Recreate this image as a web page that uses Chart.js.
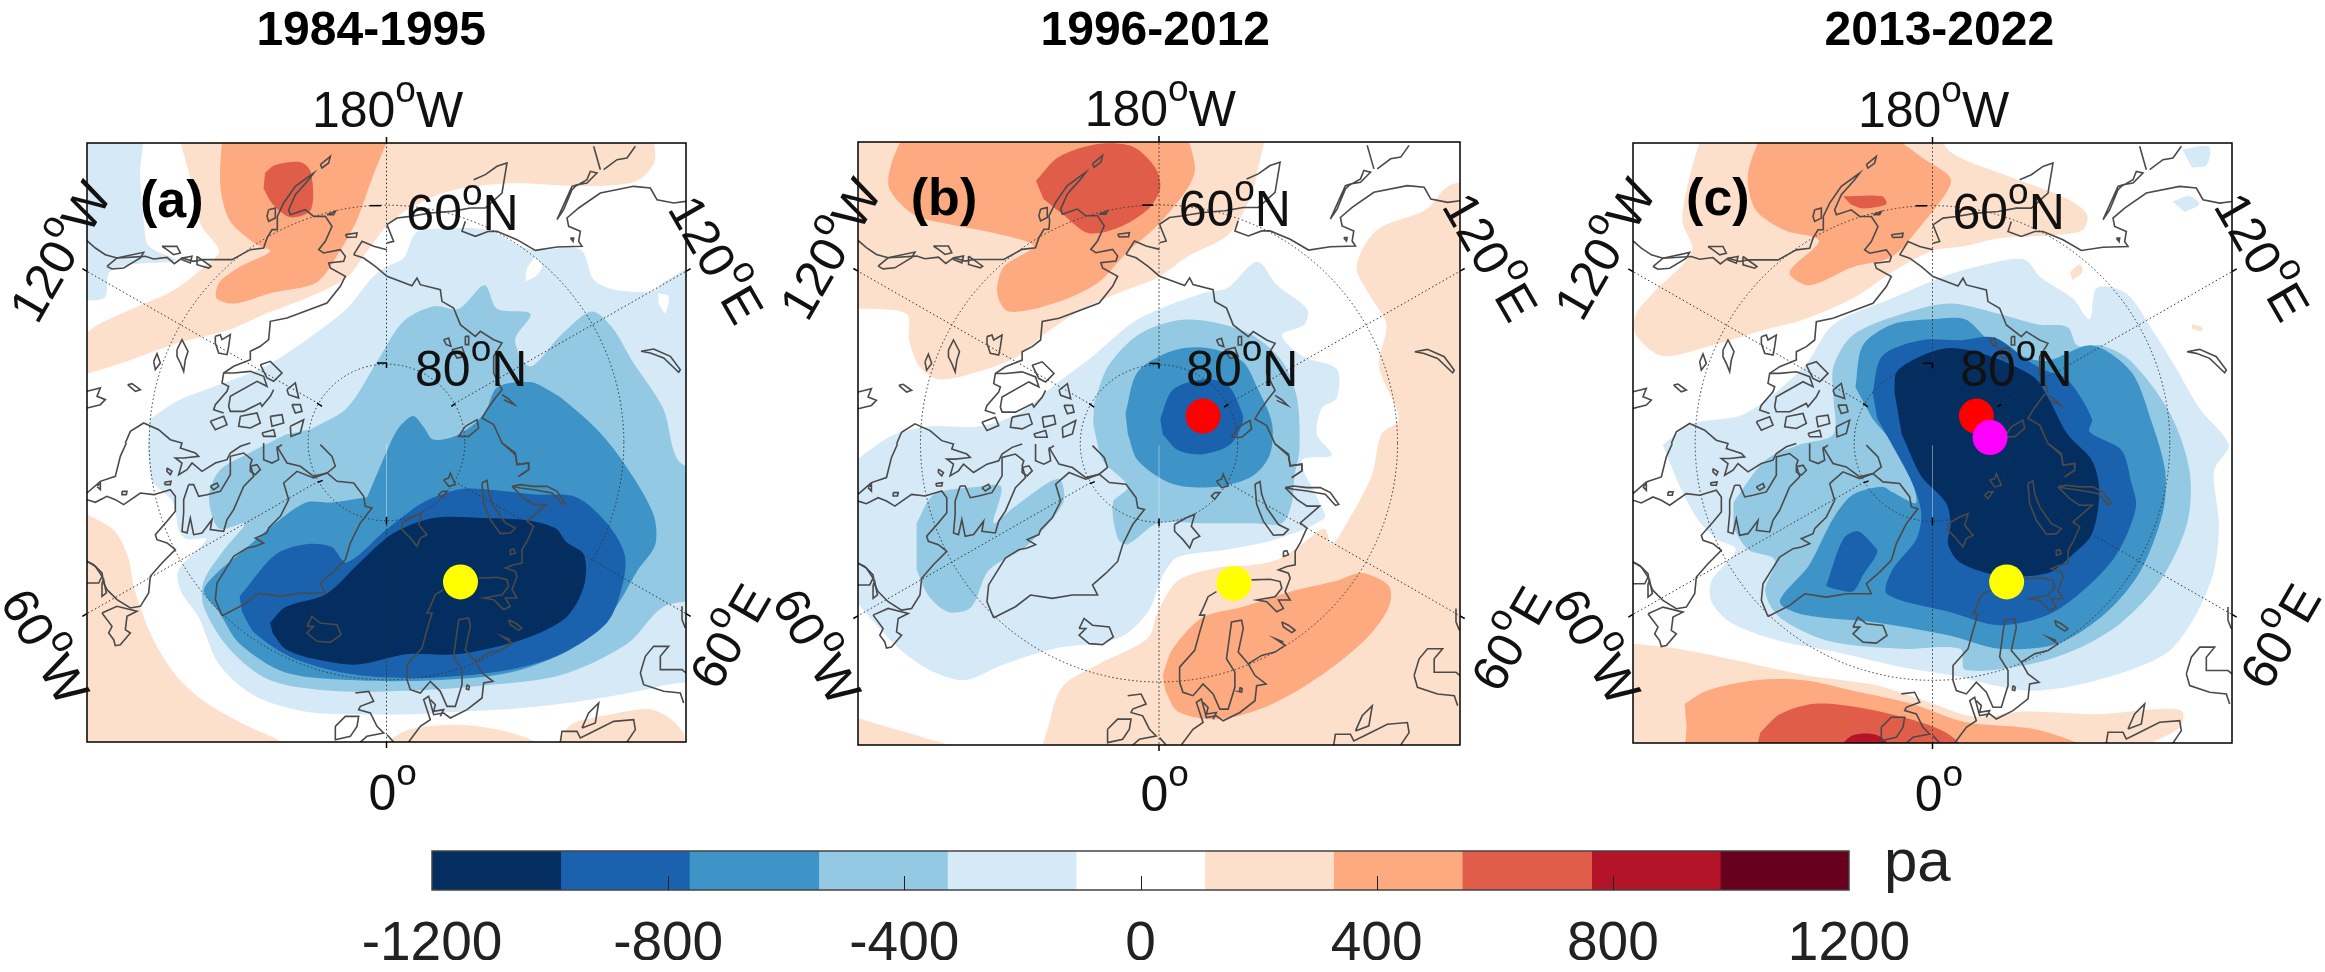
<!DOCTYPE html>
<html>
<head>
<meta charset="utf-8">
<title>Pressure anomaly maps</title>
<script src="https://cdn.jsdelivr.net/npm/chart.js@4"></script>
<style>
  html, body { margin: 0; background: #fff; }
  #page { position: relative; width: 2325px; height: 972px; overflow: hidden; }
  canvas { position: absolute; left: 0; top: 0; }
</style>
</head>
<body>
<div id="page">
  <canvas id="panelA" width="2325" height="972"></canvas>
  <canvas id="panelB" width="2325" height="972"></canvas>
  <canvas id="panelC" width="2325" height="972"></canvas>
  <canvas id="colorbar" width="2325" height="972"></canvas>
</div>
<script>
// colour levels, pa
const levelEdges = [-1200, -982, -764, -545, -327, -109, 109, 327, 545, 764, 982, 1200];
const levelColors = ['#042e60', '#1a62ae', '#3f94c7', '#93c9e3', '#d5e9f7', '#ffffff', '#fde0cb', '#fdaa81', '#e05e49', '#b31428', '#67001f'];
const colorbarTicks = [-1200, -800, -400, 0, 400, 800, 1200];
const panelTitles = ['1984-1995', '1996-2012', '2013-2022'];
const panelTags = ['(a)', '(b)', '(c)'];

// panel a contours
const a_m200_topleft = [[120,220],[272,220],[275,340],[282,420],[292,470],[345,497],[260,505],[215,520],[204,570],[120,570]];
const a_p200_top = [[120,680],[185,625],[260,590],[340,555],[400,510],[430,480],[395,430],[375,350],[365,220],[1250,220],[1285,300],[1250,345],[1150,355],[1000,350],[880,365],[800,400],[760,430],[720,480],[680,530],[600,570],[520,600],[450,630],[350,655],[250,690],[120,730]];
const a_p400_top = [[440,220],[432,350],[450,420],[500,465],[530,480],[470,510],[430,540],[425,570],[460,580],[530,560],[620,540],[660,490],[700,420],[730,340],[780,220]];
const a_p600_top = [[520,330],[540,315],[590,310],[610,330],[610,400],[570,415],[535,390],[517,360]];
const a_p200_botleft = [[120,960],[220,1010],[250,1060],[265,1130],[300,1220],[345,1290],[400,1340],[480,1385],[560,1425],[560,1470],[120,1470]];
const a_p200_bot = [[740,1430],[800,1395],[900,1385],[1000,1400],[1065,1430],[1000,1470],[800,1470]];
const a_p200_botright = [[1090,1430],[1120,1385],[1200,1365],[1270,1355],[1310,1370],[1340,1400],[1345,1425],[1400,1470],[1100,1470]];
const a_m200 = [[295,800],[350,765],[430,735],[520,700],[600,650],[680,590],[730,530],[759,509],[792,493],[815,445],[857,437],[955,439],[1007,464],[1046,477],[1138,477],[1164,534],[1203,553],[1281,556],[1304,537],[1400,500],[1400,1280],[1300,1310],[1200,1330],[1100,1345],[1000,1355],[900,1360],[800,1365],[700,1365],[600,1360],[500,1330],[430,1270],[390,1180],[355,1130],[350,1090],[405,1030],[365,1030],[350,1010],[340,960],[300,920],[290,860]];
const a_white_notch1 = [[1033,512],[1050,493],[1063,509],[1050,528],[1030,537]];
const a_white_notch2 = [[1291,560],[1311,566],[1304,598],[1291,579]];
const a_m400 = [[610,820],[680,780],[740,690],[790,615],[850,585],[900,590],[950,545],[975,590],[1040,600],[1010,650],[1040,700],[1100,640],[1160,595],[1200,625],[1240,690],[1300,780],[1330,880],[1400,920],[1400,1130],[1300,1160],[1230,1230],[1100,1290],[950,1310],[800,1320],[650,1320],[530,1300],[450,1240],[400,1160],[400,1110],[440,1050],[480,1000],[430,1010],[410,950],[430,900],[480,870],[560,830]];
const a_m600 = [[755,870],[780,820],[810,795],[830,815],[850,840],[900,830],[950,790],[975,740],[1040,730],[1075,745],[1100,760],[1170,820],[1220,880],[1280,980],[1285,1040],[1250,1090],[1200,1170],[1120,1240],[1000,1285],[850,1300],[700,1300],[560,1285],[470,1230],[430,1170],[400,1130],[420,1100],[480,1050],[540,1000],[600,960],[650,960],[720,950]];
const a_m800 = [[470,1140],[540,1060],[600,1040],[650,1045],[680,1075],[760,1010],[830,960],[900,935],[950,935],[1050,945],[1130,950],[1190,1000],[1225,1060],[1220,1120],[1190,1190],[1100,1250],[1000,1280],[850,1295],[700,1290],[580,1260],[500,1210],[475,1170]];
const a_m1000 = [[530,1190],[560,1160],[640,1135],[700,1080],[770,1020],[850,990],[950,990],[1040,995],[1090,1010],[1110,1035],[1145,1060],[1145,1120],[1110,1180],[1030,1220],[900,1250],[800,1250],[700,1270],[620,1260],[560,1240],[535,1210]];
const a_yellow = [[903,1112]];

// panel b contours
const b_p200_top = [[100,220],[965,220],[960,330],[940,390],[900,450],[820,490],[760,530],[680,560],[610,590],[530,640],[480,680],[400,710],[320,725],[280,700],[260,650],[255,600],[170,590],[100,590]];
const b_p200_right = [[1420,340],[1345,355],[1300,400],[1200,440],[1160,510],[1190,570],[1220,620],[1205,700],[1245,800],[1210,830],[1190,910],[1140,1000],[1110,1040],[1095,1010],[1050,1040],[1000,1070],[950,1080],[880,1085],[800,1110],[760,1170],[740,1220],[640,1270],[570,1310],[545,1370],[535,1480],[1420,1480]];
const b_p200_corner = [[100,1355],[200,1385],[290,1410],[360,1435],[100,1480]];
const b_p400_top = [[262,230],[225,310],[220,360],[270,410],[350,430],[430,445],[510,470],[450,510],[437,560],[460,595],[550,580],[640,540],[700,480],[760,430],[820,360],[835,320],[810,230]];
const b_p600_top = [[515,345],[560,300],[640,275],[710,280],[755,320],[765,360],[740,400],[680,435],[620,445],[570,410],[530,380]];
const b_p400_bot = [[770,1290],[790,1240],[850,1180],[930,1160],[1030,1130],[1120,1110],[1170,1095],[1225,1120],[1225,1160],[1180,1220],[1090,1290],[980,1350],[880,1375],[800,1360],[775,1320]];
const b_m200 = [[100,920],[220,835],[300,815],[400,815],[480,790],[560,730],[630,680],[720,610],[850,560],[900,550],[960,500],[1000,545],[1060,590],[1055,620],[1010,640],[1050,680],[1120,705],[1120,760],[1090,780],[1080,830],[1110,870],[1050,880],[1085,960],[1095,990],[1000,1030],[900,1050],[800,1065],[770,1100],[740,1170],[680,1220],[550,1240],[450,1270],[370,1300],[300,1280],[240,1240],[190,1190],[100,1090]];
const b_m400_centre = [[632,770],[660,700],[720,640],[800,612],[870,615],[950,640],[1010,690],[1040,760],[1045,860],[1035,910],[1030,960],[1010,1000],[950,1000],[850,1000],[760,1000],[700,1040],[680,1030],[670,960],[700,930],[650,880],[630,810]];
const b_m400_left = [[275,1000],[310,945],[400,930],[445,930],[430,1000],[470,970],[560,915],[570,960],[500,1040],[420,1090],[385,1160],[340,1170],[300,1140],[275,1090]];
const b_m600 = [[695,790],[720,710],[790,670],[860,665],[930,690],[960,740],[990,810],[985,870],[950,910],[880,930],[790,925],[720,880],[700,830]];
const b_m800 = [[765,800],[790,745],[850,725],[900,735],[930,790],[930,810],[905,850],[850,868],[800,860],[770,830]];
const b_red = [[851,795]];
const b_yellow = [[913,1115]];

// panel c contours
const c_p200_top = [[300,230],[270,320],[250,420],[270,480],[190,560],[155,600],[155,640],[210,680],[310,660],[420,630],[500,610],[600,570],[680,520],[760,480],[830,470],[900,455],[1000,450],[1070,440],[1080,410],[1040,380],[900,330],[800,290],[760,230]];
const c_p400_top = [[425,230],[385,330],[400,400],[460,440],[530,460],[470,520],[510,545],[600,510],[680,490],[740,430],[790,370],[800,340],[740,300],[640,230]];
const c_p600_top = [[580,375],[660,375],[668,390],[620,398],[595,390]];
const c_p200_bot = [[100,1225],[240,1240],[350,1260],[500,1290],[650,1310],[750,1340],[850,1370],[950,1360],[1100,1365],[1230,1355],[1275,1360],[1270,1390],[1190,1430],[1100,1480],[100,1480]];
const c_p400_bot = [[255,1345],[300,1320],[400,1300],[500,1300],[600,1320],[720,1345],[830,1380],[980,1395],[1080,1435],[900,1480],[270,1480],[258,1380]];
const c_p600_bot = [[410,1400],[450,1365],[520,1345],[600,1350],[700,1370],[790,1400],[825,1435],[600,1480],[400,1440]];
const c_p800_bot = [[570,1430],[600,1405],[650,1405],[675,1430],[620,1450]];
const c_m200_patch1 = [[1275,285],[1330,280],[1325,315],[1295,320]];
const c_m200_patch2 = [[1255,385],[1290,375],[1310,390],[1280,405]];
const c_p200_patch1 = [[1295,620],[1315,625],[1315,633],[1295,628]];
const c_p200_patch2 = [[1045,520],[1065,505],[1070,520],[1050,535]];
const c_m200 = [[210,850],[270,810],[380,790],[500,700],[560,620],[680,570],[780,530],[850,510],[950,495],[985,530],[1050,570],[1085,610],[1100,550],[1160,560],[1220,640],[1260,700],[1310,780],[1370,850],[1340,900],[1350,1000],[1340,1090],[1300,1180],[1240,1250],[1100,1300],[960,1320],[800,1290],[700,1275],[560,1245],[450,1225],[350,1190],[310,1150],[310,1110],[360,1050],[320,1030],[280,990],[240,920]];
const c_m400 = [[355,960],[420,880],[490,850],[560,830],[560,760],[560,700],[600,640],[700,600],[800,580],[900,600],[980,620],[1040,625],[1060,660],[1110,660],[1170,690],[1250,790],[1290,900],[1285,1000],[1230,1110],[1150,1190],[1060,1240],[960,1270],[830,1280],[820,1240],[700,1240],[550,1225],[450,1180],[420,1130],[440,1070],[385,1050],[355,1010]];
const c_m600 = [[605,740],[620,660],[680,620],[760,610],[830,610],[880,650],[990,690],[1090,660],[1170,710],[1210,800],[1240,900],[1235,980],[1190,1090],[1120,1170],[1020,1230],[900,1240],[800,1215],[650,1190],[500,1175],[450,1150],[510,1080],[560,990],[600,945],[660,930],[680,940],[730,960],[700,870],[640,800]];
const c_m800 = [[640,750],[660,680],[740,650],[820,650],[890,645],[960,690],[1000,710],[1040,725],[1090,800],[1085,825],[1150,860],[1170,920],[1180,970],[1140,1060],[1070,1130],[1000,1175],[900,1195],[800,1170],[670,1135],[680,1090],[730,1030],[740,980],[720,920],[680,850],[650,800]];
const c_m800_small = [[545,1120],[580,1030],[610,1015],[640,1040],[650,1055],[620,1100],[600,1130],[560,1125]];
const c_m1000 = [[685,750],[690,710],[740,680],[800,665],[880,680],[970,720],[1000,760],[1040,830],[1090,880],[1105,940],[1090,1020],[1050,1060],[1000,1095],[900,1100],[820,1075],[795,1040],[800,1000],[790,960],[740,910],[700,830]];
const c_red = [[853,795]];
const c_magenta = [[881,836]];
const c_yellow = [[915,1112]];

// coastlines on the shared map grid (0..1797 across the box), same in all panels
const coastlines = [
  [[0,293],[25,315],[55,335],[90,345],[175,340],[200,348],[240,343],[262,362],[285,345],[320,355],[345,350],[435,350],[490,320],[530,315],[540,285],[555,260],[570,260],[572,235],[570,220],[590,180],[625,130],[680,90],[665,110],[625,155],[605,200],[610,215],[655,200],[680,220],[715,220],[735,250],[715,295],[695,320],[710,330],[760,320],[775,340],[770,355],[725,360],[730,375],[775,400],[760,430],[720,480],[640,510],[600,525],[550,535],[545,590],[520,610],[490,625],[490,650],[440,670],[410,690],[405,720],[425,730],[420,745],[385,785],[380,800],[410,810]],
  [[60,370],[90,345],[170,328],[160,345],[110,375],[75,378],[60,370]],
  [[545,200],[565,195],[565,225],[545,235],[540,220],[545,200]],
  [[700,65],[730,40],[725,60],[705,75],[700,65]],
  [[720,215],[745,205],[740,215],[725,215],[720,215]],
  [[775,275],[810,270],[808,282],[780,283],[775,275]],
  [[225,310],[270,310],[280,330],[260,335],[240,320],[225,310]],
  [[285,345],[315,340],[310,360],[285,350],[285,345]],
  [[330,340],[372,370],[365,375],[330,365],[330,340]],
  [[385,580],[400,575],[405,590],[430,575],[425,610],[420,635],[395,630],[385,600],[385,580]],
  [[270,620],[285,590],[303,625],[295,650],[290,685],[280,660],[270,640],[270,620]],
  [[200,655],[210,632],[220,660],[205,680],[200,655]],
  [[122,725],[135,722],[160,740],[145,745],[122,725]],
  [[0,745],[40,735],[30,760],[55,770],[40,785],[0,795]],
  [[800,335],[825,295],[860,310],[900,320]],
  [[800,335],[830,345],[865,370],[900,400],[975,428],[990,405],[1000,425],[1060,440],[1065,475],[1100,495],[1120,545],[1165,580],[1180,565],[1220,590],[1245,600],[1220,640],[1220,690],[1245,740],[1225,765],[1200,800],[1185,825],[1220,845],[1245,900],[1285,930],[1290,965],[1325,960],[1325,980],[1295,1000]],
  [[900,245],[930,225],[970,220],[1030,210],[1095,205],[1150,195],[1195,195],[1245,150],[1260,60],[1230,70],[1195,95],[1160,110]],
  [[900,245],[920,295],[900,300]],
  [[1135,235],[1125,265],[1165,280],[1205,265],[1230,265],[1290,290],[1345,322],[1410,312],[1485,310],[1475,295],[1480,265],[1445,250],[1440,225],[1475,195],[1540,150],[1640,130],[1690,135],[1710,170],[1760,180],[1797,175]],
  [[1410,230],[1455,130],[1470,125],[1500,120],[1530,90],[1510,85],[1500,110],[1465,130],[1455,140],[1430,200],[1410,230]],
  [[1540,80],[1520,10]],
  [[1550,80],[1590,50],[1620,45],[1645,10]],
  [[1070,590],[1085,585],[1092,610],[1078,605],[1070,590]],
  [[1135,580],[1145,580],[1145,605],[1135,605],[1135,580]],
  [[1095,620],[1125,612],[1135,640],[1110,645],[1095,620]],
  [[1245,755],[1265,768],[1282,785],[1250,770]],
  [[1135,850],[1170,830],[1175,855],[1145,880],[1115,880],[1135,850]],
  [[1662,625],[1700,618],[1750,640],[1780,680],[1775,688],[1730,645],[1690,630],[1662,625]],
  [[1450,285],[1460,285],[1458,295],[1450,285]],
  [[520,665],[550,655],[585,690],[560,715],[540,705],[520,665]],
  [[410,690],[440,690],[490,685],[530,700],[540,730],[510,715],[430,760],[425,790],[430,805],[470,805],[520,780],[525,790],[550,760],[560,740]],
  [[460,820],[510,810],[520,840],[490,855],[455,850],[460,820]],
  [[370,835],[410,820],[420,845],[385,860],[370,835]],
  [[550,820],[585,815],[590,840],[555,850],[550,820]],
  [[525,870],[560,860],[565,880],[530,880],[525,870]],
  [[600,740],[625,720],[635,765],[605,755],[600,740]],
  [[615,785],[640,785],[645,805],[625,810],[615,785]],
  [[610,850],[650,830],[640,870],[612,880],[610,850]],
  [[115,900],[130,865],[170,840],[215,860],[250,890],[285,900],[280,915],[325,930],[335,940],[290,945],[265,945],[285,960],[275,995],[300,980],[315,960],[345,985],[385,960],[420,950],[430,930],[460,910],[490,900]],
  [[118,900],[100,940],[85,1000],[40,1015],[0,1050]],
  [[0,1070],[25,1078],[60,1060],[85,1070],[110,1085],[160,1050],[200,1055],[250,1040],[265,1060],[265,1105],[240,1135],[205,1175],[210,1190],[240,1200],[265,1220],[225,1260],[190,1300],[185,1350],[160,1390],[130,1395],[90,1370],[60,1340],[50,1320],[45,1290],[20,1265],[0,1255]],
  [[0,1255],[25,1270],[45,1300],[35,1320],[0,1320]],
  [[45,1320],[50,1310],[58,1350],[45,1360],[45,1320]],
  [[45,1410],[90,1390],[150,1405],[120,1420],[115,1460],[130,1470],[100,1505],[85,1508],[80,1490],[65,1470],[75,1450],[45,1410]],
  [[30,1030],[40,1020],[40,1040],[30,1030]],
  [[105,1045],[120,1045],[118,1055],[105,1055],[105,1045]],
  [[240,975],[255,985],[250,995],[240,985],[240,975]],
  [[232,1018],[252,1015],[250,1025],[235,1025],[232,1018]],
  [[305,1025],[290,1070],[290,1110],[285,1165],[300,1170],[310,1125],[320,1175],[345,1170],[375,1130],[370,1160],[410,1165],[420,1130],[440,1100],[470,1030],[500,1000],[490,965],[495,950],[470,930],[430,940],[430,995],[400,1045],[360,1055],[335,1060],[320,1025],[305,1025]],
  [[370,1030],[390,1020],[395,1030],[380,1040],[370,1030]],
  [[490,970],[510,965],[520,980],[505,995],[490,985],[490,970]],
  [[530,900],[530,950],[555,960],[575,950],[570,915],[585,905]],
  [[570,910],[600,960],[640,970],[680,1000],[720,990],[745,970],[735,940],[700,905]],
  [[405,1418],[385,1370],[390,1320],[440,1240],[480,1215],[505,1210],[530,1200],[505,1185],[540,1170],[545,1155],[580,1120],[605,1070],[590,1020],[630,985],[680,1005],[720,990],[750,1015],[800,1020],[830,1060],[835,1090],[855,1095],[820,1140],[790,1200],[775,1250],[740,1285],[700,1320],[715,1350],[640,1350],[580,1360],[515,1350],[470,1385],[405,1418]],
  [[660,1450],[675,1420],[700,1440],[750,1445],[762,1475],[730,1498],[690,1495],[660,1470],[680,1450],[660,1450]],
  [[745,1750],[775,1720],[815,1720],[810,1750],[790,1780],[745,1790],[745,1750]],
  [[805,1650],[845,1645],[860,1675],[820,1690],[815,1700],[850,1710],[870,1750],[890,1770],[840,1780],[820,1797]],
  [[1245,900],[1285,935],[1290,965],[1325,960],[1325,980],[1295,1000]],
  [[1275,1030],[1300,1025],[1340,1030],[1380,1030],[1410,1045],[1435,1080],[1425,1083],[1395,1050],[1340,1040],[1300,1035],[1275,1030]],
  [[1275,1030],[1310,1065],[1340,1085],[1378,1085],[1355,1105],[1320,1135],[1340,1150],[1320,1195],[1305,1220],[1305,1260],[1280,1265],[1255,1275],[1285,1285],[1290,1300],[1275,1340],[1290,1365],[1255,1365],[1270,1390],[1250,1400],[1220,1370],[1190,1365],[1245,1355],[1265,1330],[1260,1310],[1230,1303],[1175,1305]],
  [[1185,1020],[1200,1012],[1205,1050],[1220,1090],[1255,1140],[1285,1155],[1270,1170],[1240,1172],[1210,1130],[1190,1080],[1185,1020]],
  [[1270,1220],[1280,1218],[1285,1230],[1270,1235],[1270,1220]],
  [[1265,1430],[1285,1440],[1305,1455],[1295,1462],[1270,1445],[1265,1430]],
  [[1070,1340],[1045,1355],[1030,1390],[1020,1410],[1035,1410],[1020,1460],[1005,1515],[960,1565],[960,1610],[970,1640],[1000,1650],[1030,1615],[1060,1645],[1080,1690],[1105,1690],[1125,1625],[1125,1580],[1100,1540],[1115,1430],[1145,1425],[1150,1450],[1135,1520],[1165,1555],[1205,1530],[1245,1520],[1275,1500],[1245,1480],[1270,1490]],
  [[1165,1555],[1185,1590],[1218,1615],[1190,1620],[1185,1665],[1140,1700],[1090,1725],[1070,1710],[1040,1715],[1025,1660],[1010,1670],[1030,1730],[1000,1750],[965,1797]],
  [[1030,1670],[1045,1685],[1040,1705],[1070,1700],[1060,1720]],
  [[900,1775],[920,1797]],
  [[1140,1625],[1147,1630],[1145,1640],[1138,1638],[1140,1625]],
  [[1065,1045],[1080,1045],[1065,1065],[1055,1055],[1065,1045]],
  [[1070,1010],[1085,1005],[1090,990],[1105,1025],[1085,1030],[1070,1010]],
  [[945,1140],[980,1120],[1005,1110],[995,1145],[1020,1175],[1000,1185],[990,1210],[970,1185],[945,1160],[945,1140]],
  [[1660,1590],[1675,1540],[1700,1510],[1745,1510],[1720,1540],[1720,1580],[1785,1580],[1797,1590]],
  [[1660,1590],[1670,1625],[1730,1645],[1780,1650],[1790,1680]],
  [[1785,1390],[1785,1430],[1795,1455]],
  [[1420,1797],[1425,1765],[1470,1765],[1480,1785],[1510,1770],[1580,1735],[1640,1730],[1645,1760],[1620,1797]],
  [[1485,1755],[1505,1710],[1535,1680],[1525,1740],[1485,1755]]
];

// map graticule
const mapCentre = 898.5;
const latCircleRadii = [712, 235];
const meridianEnds = [[898.5,0],[898.5,1797],[0,385],[1797,385],[0,1412],[1797,1412]];
const mapSeam = [[898.5,905],[898.5,1120]];
const edgeTicks = [[[898.5,-18],[898.5,0]],[[898.5,1797],[898.5,1815]],[[-14,377],[0,385]],[[1797,385],[1811,377]],[[-14,1420],[0,1412]],[[1797,1412],[1811,1420]],[[848,188],[882,188]],[[870,660],[900,660]],[[898.5,660],[898.5,675]],[[898.5,1122],[898.5,1144]],[[690,780],[705,790]],[[1093,790],[1105,782]],[[692,1018],[707,1012]]];

const panels = [
  {
    canvas: 'panelA', box: [87, 143, 686, 742], gridX: [171, 1345], gridY: [273, 1418],
    contours: [[4,a_m200_topleft],[6,a_p200_top],[7,a_p400_top],[8,a_p600_top],[6,a_p200_botleft],[6,a_p200_bot],[6,a_p200_botright],[4,a_m200],[5,a_white_notch1],[5,a_white_notch2],[3,a_m400],[2,a_m600],[1,a_m800],[0,a_m1000]],
    markers: [['#ffff00',a_yellow]],
    texts: { north180: [760,243], lat60: [907,440], lat80: [924,738], zero: [770,1548], tag: [337,415], w120: [117,480], e120: [1405,495], w60: [90,1235], e60: [1430,1215], title: [728,75] }
  },
  {
    canvas: 'panelB', box: [858, 142, 1460, 745], gridX: [157, 1368], gridY: [271, 1424],
    contours: [[6,b_p200_top],[6,b_p200_right],[6,b_p200_corner],[7,b_p400_top],[8,b_p600_top],[7,b_p400_bot],[4,b_m200],[3,b_m400_centre],[3,b_m400_left],[2,b_m600],[1,b_m800]],
    markers: [['#ff0000',b_red],['#ffff00',b_yellow]],
    texts: { north180: [765,240], lat60: [915,432], lat80: [930,738], zero: [774,1550], tag: [330,410], w120: [100,475], e120: [1430,490], w60: [75,1235], e60: [1470,1220], title: [755,75] }
  },
  {
    canvas: 'panelC', box: [1633, 143, 2232, 743], gridX: [149, 1377], gridY: [273, 1420],
    contours: [[6,c_p200_top],[7,c_p400_top],[8,c_p600_top],[6,c_p200_bot],[7,c_p400_bot],[8,c_p600_bot],[9,c_p800_bot],[4,c_m200_patch1],[4,c_m200_patch2],[6,c_p200_patch1],[6,c_p200_patch2],[4,c_m200],[3,c_m400],[2,c_m600],[1,c_m800],[1,c_m800_small],[0,c_m1000]],
    markers: [['#ffff00',c_yellow],['#ff0000',c_red],['#ff00ff',c_magenta]],
    texts: { north180: [765,243], lat60: [919,437], lat80: [935,738], zero: [776,1550], tag: [323,410], w120: [90,475], e120: [1440,490], w60: [75,1235], e60: [1475,1215], title: [777,75] }
  }
];

const toPoints = pts => pts.map(p => ({ x: p[0], y: p[1] }));
const FONT = '"Liberation Sans", Arial, sans-serif';

// number + raised "o" + letter, the way the map toolbox labels degrees
function drawDegree(ctx, num, letter, size, cx, cy, angle, baseline) {
  ctx.save();
  ctx.translate(cx, cy);
  ctx.rotate(angle * Math.PI / 180);
  ctx.fillStyle = '#111';
  ctx.textAlign = 'left';
  ctx.textBaseline = 'alphabetic';
  const big = size + 'px ' + FONT, small = Math.round(size * 0.74) + 'px ' + FONT;
  ctx.font = big;
  const w1 = ctx.measureText(num).width, w3 = ctx.measureText(letter).width;
  ctx.font = small;
  const w2 = ctx.measureText('o').width;
  let x = -(w1 + w2 + w3) / 2;
  const y = baseline ? 0 : size * 0.36;
  ctx.font = big;
  ctx.fillText(num, x, y);
  x += w1;
  ctx.font = small;
  ctx.fillText('o', x, y - size * 0.5);
  x += w2;
  ctx.font = big;
  ctx.fillText(letter, x, y);
  ctx.restore();
}

const mapDecor = {
  id: 'mapDecor',
  beforeDatasetDraw(chart, args) {
    if (!chart.data.datasets[args.index].graticuleBelow) return;
    const sx = chart.scales.mapX, sy = chart.scales.mapY, ctx = chart.ctx, a = chart.chartArea;
    const cx = sx.getPixelForValue(mapCentre), cy = sy.getPixelForValue(mapCentre);
    const radius = r => Math.abs(sx.getPixelForValue(mapCentre + r) - cx);
    ctx.save();
    ctx.beginPath();
    ctx.rect(a.left, a.top, a.width, a.height);
    ctx.clip();
    // thin light seam the contour plot leaves along 0 degrees
    ctx.strokeStyle = 'rgba(255,255,255,0.4)';
    ctx.lineWidth = 1;
    ctx.beginPath();
    ctx.moveTo(sx.getPixelForValue(mapSeam[0][0]), sy.getPixelForValue(mapSeam[0][1]));
    ctx.lineTo(sx.getPixelForValue(mapSeam[1][0]), sy.getPixelForValue(mapSeam[1][1]));
    ctx.stroke();
    ctx.strokeStyle = '#333';
    ctx.setLineDash([1.5, 2.5]);
    latCircleRadii.forEach(r => {
      ctx.beginPath();
      ctx.arc(cx, cy, radius(r), 0, Math.PI * 2);
      ctx.stroke();
    });
    // meridians start at the 80N circle
    const inner = radius(latCircleRadii[1]);
    meridianEnds.forEach(p => {
      const ex = sx.getPixelForValue(p[0]), ey = sy.getPixelForValue(p[1]);
      const len = Math.hypot(ex - cx, ey - cy);
      ctx.beginPath();
      ctx.moveTo(cx + (ex - cx) / len * inner, cy + (ey - cy) / len * inner);
      ctx.lineTo(ex, ey);
      ctx.stroke();
    });
    ctx.restore();
  },
  afterDraw(chart, args, opts) {
    const ctx = chart.ctx, a = chart.chartArea, sx = chart.scales.mapX, sy = chart.scales.mapY;
    const px = chart.scales.x, py = chart.scales.y, t = opts.texts;
    ctx.save();
    ctx.strokeStyle = '#000';
    ctx.lineWidth = 1.5;
    ctx.strokeRect(a.left, a.top, a.width, a.height);
    edgeTicks.forEach(e => {
      ctx.beginPath();
      ctx.moveTo(sx.getPixelForValue(e[0][0]), sy.getPixelForValue(e[0][1]));
      ctx.lineTo(sx.getPixelForValue(e[1][0]), sy.getPixelForValue(e[1][1]));
      ctx.stroke();
    });
    ctx.fillStyle = '#000';
    ctx.textAlign = 'center';
    ctx.textBaseline = 'alphabetic';
    ctx.font = 'bold 48px ' + FONT;
    ctx.fillText(opts.title, px.getPixelForValue(t.title[0]), 45);
    ctx.font = 'bold 52px ' + FONT;
    ctx.fillText(opts.tag, px.getPixelForValue(t.tag[0]), py.getPixelForValue(t.tag[1]));
    ctx.restore();
    const place = (k, num, letter, angle, baseline) => {
      drawDegree(ctx, num, letter, 50, px.getPixelForValue(t[k][0]), py.getPixelForValue(t[k][1]), angle, baseline);
    };
    place('north180', '180', 'W', 0, true);
    place('lat60', '60', 'N', 0, true);
    place('lat80', '80', 'N', 0, true);
    place('zero', '0', '', 0, true);
    place('w120', '120', 'W', -60, false);
    place('e120', '120', 'E', 60, false);
    place('w60', '60', 'W', 60, false);
    place('e60', '60', 'E', -60, false);
  }
};

panels.forEach((p, i) => {
  // painted back to front, then reversed because Chart.js draws the last dataset first
  const painted = p.contours.map(c => ({
    data: toPoints(c[1]), showLine: true, fill: 'shape', tension: 0.3, borderWidth: 0,
    backgroundColor: levelColors[c[0]], pointRadius: 0
  }));
  coastlines.forEach((line, n) => {
    painted.push({
      data: toPoints(line), showLine: true, fill: false, tension: 0, borderWidth: 1.6,
      borderColor: '#4a4a4a', pointRadius: 0, xAxisID: 'mapX', yAxisID: 'mapY', graticuleBelow: n === 0
    });
  });
  p.markers.forEach(m => {
    painted.push({ data: toPoints(m[1]), showLine: false, pointRadius: 17.5, pointBackgroundColor: m[0], pointBorderWidth: 0 });
  });
  new Chart(document.getElementById(p.canvas), {
    type: 'scatter',
    data: { datasets: painted.reverse() },
    options: {
      responsive: false,
      animation: false,
      events: [],
      layout: { padding: { left: p.box[0], top: p.box[1], right: 2325 - p.box[2], bottom: 972 - p.box[3] } },
      scales: {
        x: { display: false, min: p.gridX[0], max: p.gridX[1] },
        y: { display: false, min: p.gridY[0], max: p.gridY[1], reverse: true },
        mapX: { display: false, axis: 'x', min: 0, max: 1797 },
        mapY: { display: false, axis: 'y', min: 0, max: 1797, reverse: true }
      },
      plugins: {
        legend: { display: false },
        tooltip: { enabled: false },
        mapDecor: { texts: p.texts, title: panelTitles[i], tag: panelTags[i] }
      }
    },
    plugins: [mapDecor]
  });
});

// colour bar
const colorbarDecor = {
  id: 'colorbarDecor',
  afterDraw(chart) {
    const ctx = chart.ctx, a = chart.chartArea, sx = chart.scales.x;
    ctx.save();
    ctx.strokeStyle = '#444';
    ctx.lineWidth = 1.5;
    ctx.strokeRect(a.left, a.top, a.width, a.height);
    ctx.strokeStyle = '#222';
    ctx.lineWidth = 1;
    colorbarTicks.slice(1, -1).forEach(v => {
      const x = Math.round(sx.getPixelForValue(v)) + 0.5;
      ctx.beginPath();
      ctx.moveTo(x, a.bottom);
      ctx.lineTo(x, a.bottom - 14);
      ctx.stroke();
    });
    ctx.fillStyle = '#222';
    ctx.textAlign = 'left';
    ctx.font = '60px ' + FONT;
    ctx.fillText('pa', 1884, 881);
    ctx.restore();
  }
};

new Chart(document.getElementById('colorbar'), {
  type: 'bar',
  data: {
    labels: ['pa'],
    datasets: levelColors.map((c, i) => ({
      data: [[levelEdges[i], levelEdges[i + 1]]], backgroundColor: c, borderWidth: 0,
      barPercentage: 1, categoryPercentage: 1, grouped: false
    }))
  },
  options: {
    indexAxis: 'y',
    responsive: false,
    animation: false,
    events: [],
    layout: { padding: { left: 432, top: 851, right: 2325 - 1849, bottom: 12 } },
    scales: {
      x: {
        type: 'linear', min: -1200, max: 1200,
        afterFit(scale) { scale.height = 70; scale.paddingLeft = 0; scale.paddingRight = 0; },
        afterBuildTicks(scale) { scale.ticks = colorbarTicks.map(v => ({ value: v })); },
        grid: { display: false },
        border: { display: false },
        ticks: { font: { size: 55, family: 'Liberation Sans' }, color: '#222', padding: 14, autoSkip: false, maxRotation: 0, callback: v => String(v) }
      },
      y: { display: false }
    },
    plugins: { legend: { display: false }, tooltip: { enabled: false } }
  },
  plugins: [colorbarDecor]
});
</script>
</body>
</html>
